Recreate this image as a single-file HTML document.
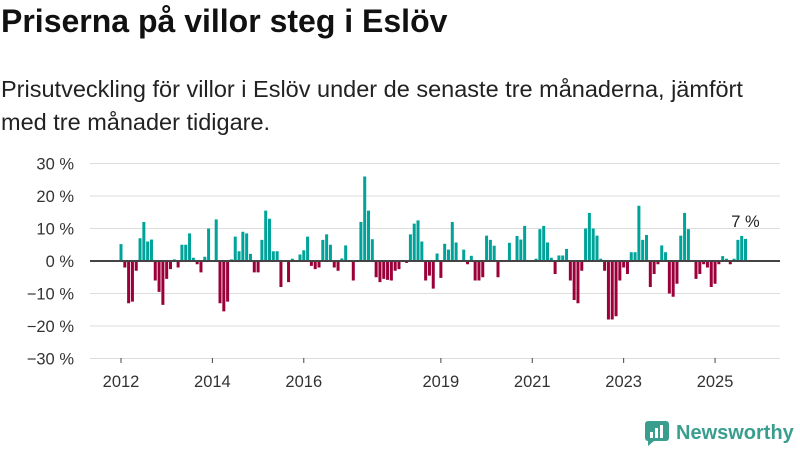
<!DOCTYPE html>
<html><head><meta charset="utf-8"><style>
body{margin:0;width:800px;height:450px;background:#fff;font-family:"Liberation Sans",sans-serif;overflow:hidden;position:relative}
h1{position:absolute;left:1px;top:3px;margin:0;font-size:32px;line-height:36px;font-weight:bold;color:#111}
p{position:absolute;left:1px;top:73px;margin:0;font-size:23.5px;line-height:33px;color:#222;width:790px}
</style></head><body>
<h1>Priserna på villor steg i Eslöv</h1>
<p>Prisutveckling för villor i Eslöv under de senaste tre månaderna, jämfört med tre månader tidigare.</p>
<svg id="c" width="800" height="450" style="position:absolute;left:0;top:0"></svg>
<script>
const yTicks=[30,20,10,0,-10,-20,-30];
const yearLabels=["2012","2014","2016","2019","2021","2023","2025"];
const yearValues=[2012,2014,2016,2019,2021,2023,2025];
const startYear=2012;
const values=[5.2,-2,-13,-12.5,-3,7,12,6,6.6,-6,-9.5,-13.5,-5.5,-2.5,0.5,-2,5,5,8.5,1,-1,-3.5,1.3,10,0,12.8,-13,-15.5,-12.5,0.5,7.5,3,9,8.5,2.2,-3.5,-3.5,6.5,15.5,13,3,3,
-8,0,-6.5,0.7,0,2,3.3,7.5,-1.5,-2.5,-2,6.5,8.2,5,-2,-3,0.8,4.8,0,-6,0,12,26,15.5,6.7,-5,-6.5,-5.5,-5.8,-6,-3,-2.5,0,-0.6,8.2,11.5,12.5,6,-6,-4.5,-8.5,2.3,-5.2,5.3,3.5,
12,5.7,0,3.5,-1,1.6,-6,-6,-5,7.8,6.5,4.7,-5,0,0,5.6,0,7.7,6.6,10.8,0,0,0.7,9.8,10.8,5.7,1,-4,1.7,1.7,3.7,-6,-12,-13,-3,10,14.8,10,7.8,0.7,-3,-18,-18,-17,-6,
-2,-4,2.7,2.7,17,6.5,8,-8,-4,-1,4.8,2.7,-10,-11,-7,7.8,14.8,9.8,0,-5.5,-4,-1,-2,-8,-7,-1,1.5,0.7,-1,0.7,6.5,7.7,6.8];
const lastLabel="7 %";
const svg=document.getElementById('c');const NS="http://www.w3.org/2000/svg";
const y=v=>261-v*3.25;
const x=m=>121+m*3.808;
function mk(t,a,p){const e=document.createElementNS(NS,t);for(const k in a)e.setAttribute(k,a[k]);(p||svg).appendChild(e);return e;}
yTicks.forEach(t=>{
 const g=mk('line',{x1:90,x2:780,y1:y(t),y2:y(t),stroke:'#ddd','stroke-width':1});
 
 
 const l=mk('text',{x:74,y:y(t)+6,'text-anchor':'end','font-size':16.5,fill:'#333'});
 l.textContent=(t<0?'\u2212'+(-t):t)+' %';
 
 
});
values.forEach((v,i)=>{
 const b=mk('rect',{x:x(i)-1.5,width:3,y:Math.min(y(v),y(0)),height:Math.abs(y(v)-y(0)),fill:v>=0?'#00a39a':'#9b0039'});
 
 
});
const z=mk('line',{x1:90,x2:780,y1:y(0),y2:y(0),stroke:'#444','stroke-width':2});


yearValues.forEach((yr,i)=>{
 const px=x((yr-startYear)*12);
 const t=mk('line',{x1:px,x2:px,y1:358,y2:363,stroke:'#444'});
 
 
 const l=mk('text',{x:px,y:387,'text-anchor':'middle','font-size':16.5,fill:'#333'});
 l.textContent=yearLabels[i];
 
 
});
const li=values.length-1;
const a=mk('text',{x:x(li),y:y(values[li])-12,'text-anchor':'middle','font-size':16.5,fill:'#222'});
a.textContent=lastLabel;


</script>
<div style="position:absolute;left:644px;top:420px;display:flex;align-items:center">
<svg width="26" height="26"><rect x="1" y="1" width="24" height="20" rx="3" fill="#3a9e8f"/><path d="M4 21 L4 26 L10 21Z" fill="#3a9e8f"/><rect x="6" y="12" width="3" height="6" fill="#fff"/><rect x="11" y="8" width="3" height="10" fill="#fff"/><rect x="16" y="5" width="3" height="13" fill="#fff"/></svg>
<span style="font-size:20px;font-weight:bold;color:#3a9e8f;margin-left:6px">Newsworthy</span></div>
</body></html>
